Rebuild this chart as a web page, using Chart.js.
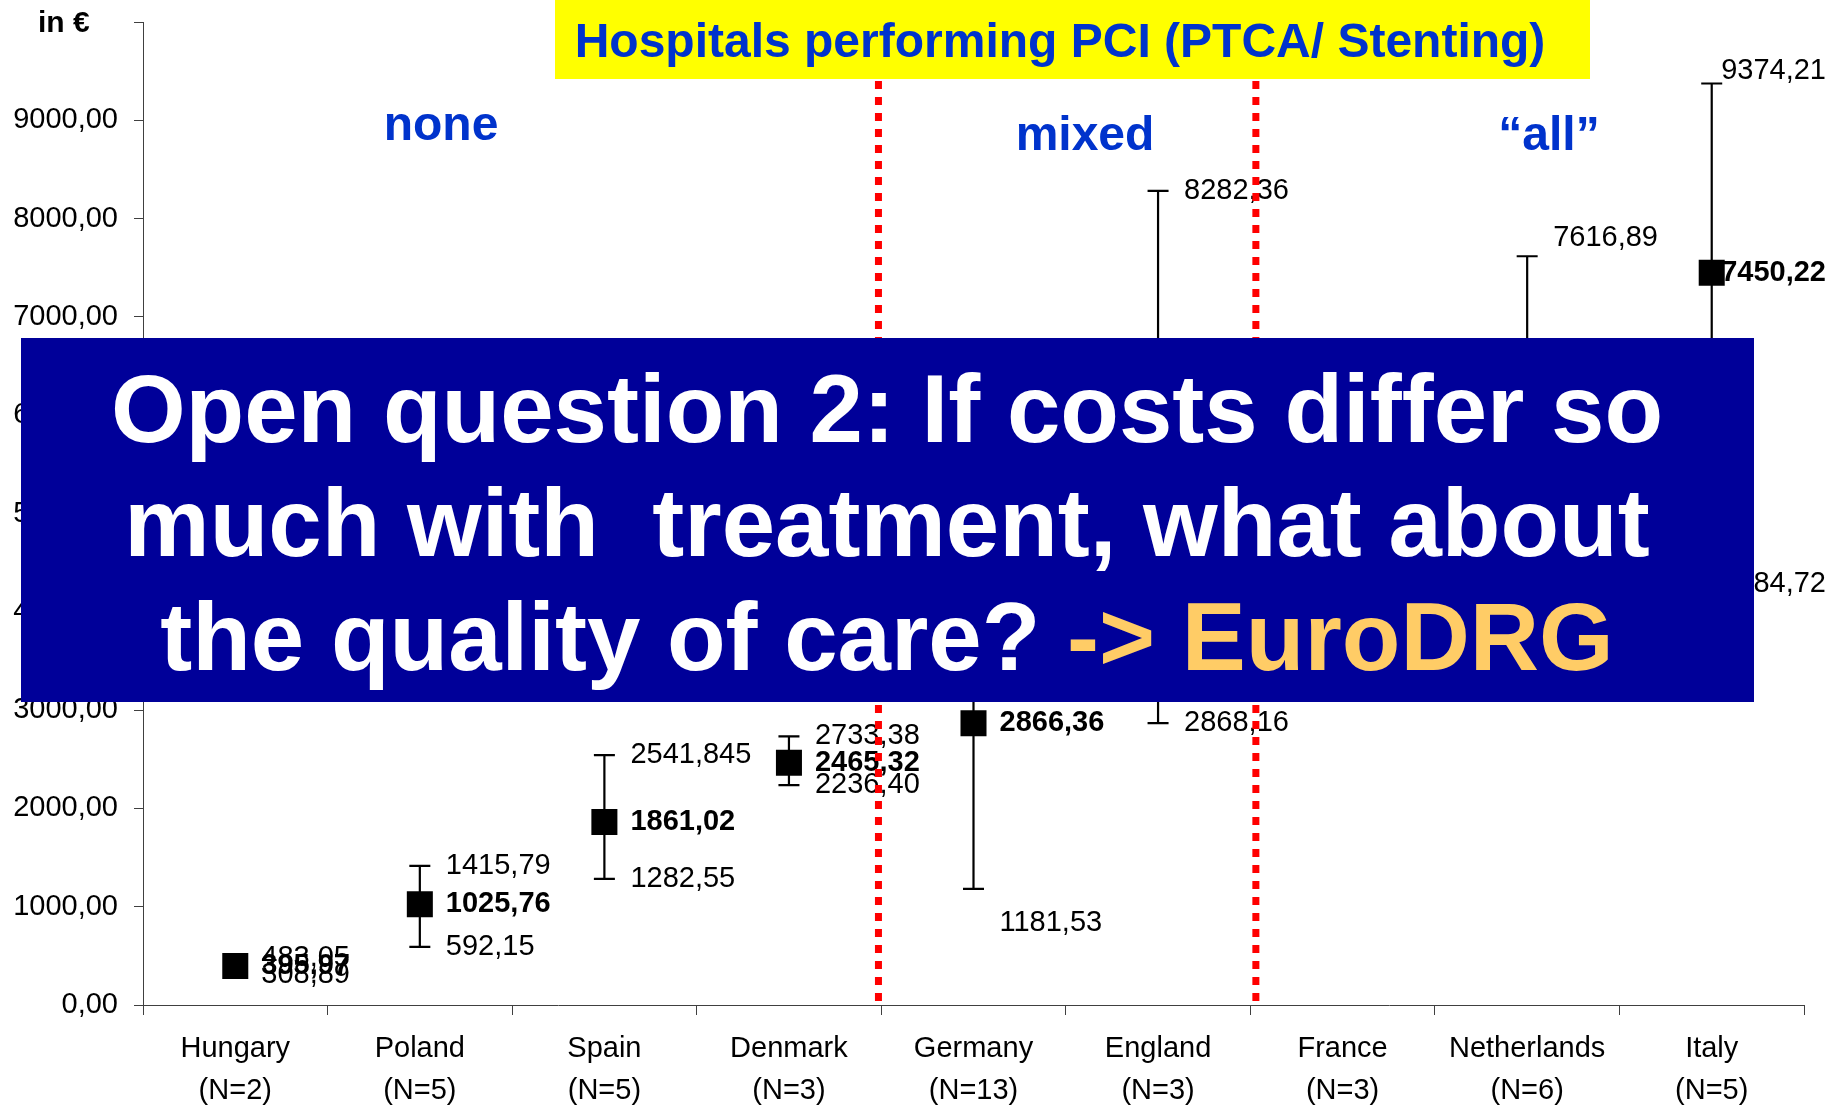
<!DOCTYPE html>
<html>
<head>
<meta charset="utf-8">
<script src="https://cdn.jsdelivr.net/npm/chart.js@4/dist/chart.umd.min.js"></script>
<style>
html,body{margin:0;padding:0;background:#fff;}
#wrap{width:1843px;height:1108px;position:relative;}
</style>
</head>
<body>
<div id="wrap"><canvas id="c" width="1843" height="1108"></canvas></div>
<script>
// ---- data ----
const categories = ['Hungary','Poland','Spain','Denmark','Germany','England','France','Netherlands','Italy'];
const groupSizes = ['(N=2)','(N=5)','(N=5)','(N=3)','(N=13)','(N=3)','(N=3)','(N=6)','(N=5)'];
const meanCost = [395.97, 1025.76, 1861.02, 2465.32, 2866.36, 5200.00, 4800.00, 5400.00, 7450.22];
const maxCost  = [483.05, 1415.79, 2541.845, 2733.38, 4600.00, 8282.36, 5800.00, 7616.89, 9374.21];
const minCost  = [308.89, 592.15, 1282.55, 2236.40, 1181.53, 2868.16, 3700.00, 3600.00, 4284.72];
const yMin = 0, yMax = 10000, yStep = 1000;
const groupNames = ['none', 'mixed', '\u201Call\u201D'];
const titleText = 'Hospitals performing PCI (PTCA/ Stenting)';
const unitText = 'in \u20AC';
const boxLines = ['Open question 2: If costs differ so', 'much with  treatment, what about', 'the quality of care? '];
const boxHighlight = '-> EuroDRG';

// ---- helpers / styles ----
const FONT = '"Liberation Sans", Arial, Helvetica, sans-serif';
function fmt(v){
  let s = String(v);
  if (s.indexOf('.') < 0) s += '.00';
  else { const d = s.split('.')[1].length; if (d < 2) s += '0'.repeat(2 - d); }
  return s.replace('.', ',');
}
const labelNudge = { Germany:{min:34}, Netherlands:{max:-18}, Italy:{max:-13} };
const labelRightLimit = 1826;

const errorBarsPlugin = {
  id: 'errorBars',
  beforeDatasetsDraw(chart){
    const {ctx, scales:{x, y}} = chart;
    ctx.save();
    ctx.strokeStyle = '#000';
    ctx.lineWidth = 2.2;
    categories.forEach((c, i) => {
      const px = x.getPixelForValue(i);
      const yt = y.getPixelForValue(maxCost[i]);
      const yb = y.getPixelForValue(minCost[i]);
      ctx.beginPath();
      ctx.moveTo(px, yt); ctx.lineTo(px, yb);
      ctx.moveTo(px - 10.5, yt); ctx.lineTo(px + 10.5, yt);
      ctx.moveTo(px - 10.5, yb); ctx.lineTo(px + 10.5, yb);
      ctx.stroke();
    });
    ctx.restore();
  },
  afterDatasetsDraw(chart){
    const {ctx, scales:{x, y}} = chart;
    ctx.save();
    ctx.fillStyle = '#000';
    ctx.textBaseline = 'middle';
    ctx.textAlign = 'left';
    categories.forEach((c, i) => {
      const px = x.getPixelForValue(i);
      const nud = labelNudge[c] || {};
      const items = [
        {v: maxCost[i], bold: false, k: 'max'},
        {v: minCost[i], bold: false, k: 'min'},
        {v: meanCost[i], bold: true, k: 'mean'}
      ];
      items.forEach(it => {
        ctx.font = (it.bold ? 'bold ' : '') + '29px ' + FONT;
        const t = fmt(it.v);
        const w = ctx.measureText(t).width;
        let lx = px + 26;
        if (lx + w > labelRightLimit) lx = labelRightLimit - w;
        ctx.fillText(t, lx, y.getPixelForValue(it.v) + (nud[it.k] || 0));
      });
    });
    ctx.restore();
  }
};

const overlayPlugin = {
  id: 'overlay',
  afterDraw(chart){
    const {ctx, scales:{x, y}} = chart;
    ctx.save();
    // unit label
    ctx.fillStyle = '#000';
    ctx.font = 'bold 30px ' + FONT;
    ctx.textAlign = 'left'; ctx.textBaseline = 'alphabetic';
    ctx.fillText(unitText, 38, 32);

    // red dotted separators
    ctx.strokeStyle = '#FF0000';
    ctx.lineWidth = 7;
    ctx.setLineDash([8, 8]);
    [3.485, 5.53].forEach(v => {
      const px = x.getPixelForValue(v);
      ctx.beginPath(); ctx.moveTo(px, 81); ctx.lineTo(px, y.getPixelForValue(0)); ctx.stroke();
    });
    ctx.setLineDash([]);

    // yellow title box
    ctx.fillStyle = '#FFFF00';
    ctx.fillRect(555, 0, 1035, 79);
    ctx.fillStyle = '#0033CC';
    ctx.font = 'bold 48px ' + FONT;
    ctx.textAlign = 'center';
    ctx.fillText(titleText, 1060, 57, 975);

    // group labels
    ctx.fillText(groupNames[0], 441, 140);
    ctx.fillText(groupNames[1], 1085, 150);
    ctx.fillText(groupNames[2], 1549, 150);

    // blue overlay box
    ctx.fillStyle = '#000099';
    ctx.fillRect(21, 338, 1733, 364);
    ctx.font = 'bold 96px ' + FONT;
    ctx.fillStyle = '#FFFFFF';
    ctx.textAlign = 'center';
    ctx.fillText(boxLines[0], 887, 442);
    ctx.fillText(boxLines[1], 887, 556);
    const w1 = ctx.measureText(boxLines[2]).width;
    const w2 = ctx.measureText(boxHighlight).width;
    const sx = 887 - (w1 + w2) / 2;
    ctx.textAlign = 'left';
    ctx.fillText(boxLines[2], sx, 670);
    ctx.fillStyle = '#FFCC66';
    ctx.fillText(boxHighlight, sx + w1, 670);
    ctx.restore();
  }
};

const xLabels = categories.map((c, i) => [c, groupSizes[i]]);

new Chart(document.getElementById('c'), {
  type: 'line',
  data: {
    labels: xLabels,
    datasets: [{
      data: meanCost,
      showLine: false,
      pointStyle: 'rect',
      pointRadius: 18.4,
      pointHoverRadius: 18.4,
      pointBackgroundColor: '#000',
      pointBorderColor: '#000',
      pointBorderWidth: 0
    }]
  },
  options: {
    responsive: false,
    devicePixelRatio: 1,
    animation: false,
    events: [],
    layout: { padding: { top: 22, right: 39, left: 0, bottom: 0 } },
    plugins: { legend: { display: false }, tooltip: { enabled: false } },
    scales: {
      x: {
        type: 'category',
        offset: true,
        grid: { offset: true, drawOnChartArea: false, drawTicks: true, tickLength: 10, color: '#404040', lineWidth: 1 },
        border: { display: true, color: '#404040', width: 1 },
        ticks: { color: '#000', font: { family: FONT, size: 29, lineHeight: 1.45 }, padding: 13, maxRotation: 0, autoSkip: false },
        afterFit(s){ s.height = 103; s.paddingLeft = 0; s.paddingRight = 0; }
      },
      y: {
        min: yMin, max: yMax,
        grid: { drawOnChartArea: false, drawTicks: true, tickLength: 9, color: '#404040', lineWidth: 1 },
        border: { display: true, color: '#404040', width: 1 },
        ticks: {
          stepSize: yStep,
          color: '#000',
          padding: 16,
          font: { family: FONT, size: 29 },
          callback: v => (v === yMax ? '' : fmt(v))
        },
        afterFit(s){ s.width = 143; s.paddingTop = 0; s.paddingBottom = 0; }
      }
    }
  },
  plugins: [errorBarsPlugin, overlayPlugin]
});
</script>
</body>
</html>
